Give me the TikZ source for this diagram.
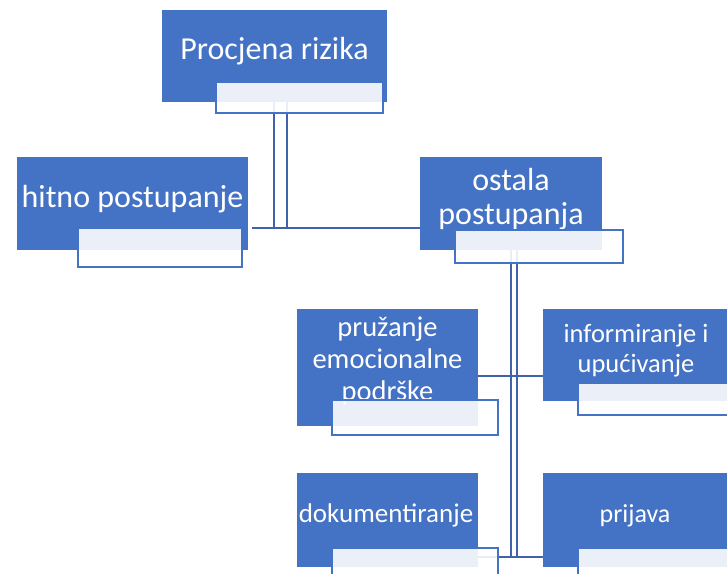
\documentclass[tikz,border=0pt]{standalone}
\usepackage{fontspec}
\setmainfont{Carlito}
\pgfdeclarelayer{background}
\pgfsetlayers{background,main}
\definecolor{boxblue}{HTML}{4472C4}
\definecolor{linkblue}{HTML}{3F62AB}
\tikzset{
  bluebox/.style={draw=none, fill=boxblue, rectangle, inner sep=0pt},
  lightbox/.style={draw=boxblue, line width=1.3pt, fill=white, fill opacity=0.89, rectangle, inner sep=0pt},
  txt/.style={text=white, inner sep=0pt, anchor=base},
  link/.style={draw=linkblue, line width=1.6pt}
}
\begin{document}
\begin{tikzpicture}[x=1pt,y=-1pt]
\useasboundingbox (0,0) rectangle (727,573);
\clip (0,0) rectangle (727,573);
% blue boxes
\node[bluebox, minimum width=225pt, minimum height=92pt] (pr) at (274.5,56) {};
\node[bluebox, minimum width=231pt, minimum height=93pt] (hit) at (132.5,203.5) {};
\node[bluebox, minimum width=182pt, minimum height=93pt] (ost) at (511,203.5) {};
\node[bluebox, minimum width=181pt, minimum height=117pt] (emo) at (387.5,367.5) {};
\node[bluebox, minimum width=186pt, minimum height=92pt] (inf) at (636,355) {};
\node[bluebox, minimum width=181pt, minimum height=94pt] (dok) at (387.5,520) {};
\node[bluebox, minimum width=186pt, minimum height=94pt] (pri) at (636,520) {};
% texts
\node[txt, font=\fontsize{32}{34}\selectfont] (prT) at (274.5,59) {Procjena rizika};
\node[txt, font=\fontsize{32}{34}\selectfont] (hitT) at (132.5,207) {hitno postupanje};
\node[txt, font=\fontsize{32}{34}\selectfont] (ostT) at (511,224) {\begin{tabular}[b]{@{}c@{}}ostala\\postupanja\end{tabular}};
\node[txt, font=\fontsize{28.5}{32}\selectfont] (emoT) at (387.5,400) {\begin{tabular}[b]{@{}c@{}}pružanje\\emocionalne\\podrške\end{tabular}};
\node[txt, font=\fontsize{26.5}{30}\selectfont] (infT) at (636,372) {\begin{tabular}[b]{@{}c@{}}informiranje i\\upućivanje\end{tabular}};
\node[txt, font=\fontsize{27}{30}\selectfont] (dokT) at (386,522) {dokumentiranje};
\node[txt, font=\fontsize{26}{30}\selectfont] (priT) at (635,522) {prijava};
% light boxes
\node[lightbox, minimum width=167pt, minimum height=31pt] (prL) at (299.5,97.5) {};
\node[lightbox, minimum width=164pt, minimum height=39pt] (hitL) at (160,247.5) {};
\node[lightbox, minimum width=168pt, minimum height=33pt] (ostL) at (539,246.5) {};
\node[lightbox, minimum width=166pt, minimum height=35pt] (emoL) at (415,417.5) {};
\node[lightbox, minimum width=166pt, minimum height=32pt] (infL) at (661,399) {};
\node[lightbox, minimum width=166pt, minimum height=35pt] (dokL) at (415,565.5) {};
\node[lightbox, minimum width=166pt, minimum height=35pt] (priL) at (661,565.5) {};
% junctions
\coordinate (j1) at (280,228);
\coordinate (j2) at (514,376);
\coordinate (j3) at (514,557);
\begin{pgfonlayer}{background}
\draw[link] ([xshift=-0.5pt]pr.south) -- ([xshift=-0.5pt]pr.south |- j1);
\draw[link] ([xshift=12.5pt]pr.south) -- ([xshift=12.5pt]pr.south |- j1);
\draw[link] ([xshift=4pt]hit.east |- j1) -- (ost.west |- j1);
\draw[link] ([xshift=0pt]ost.south) -- ([xshift=0pt]ost.south |- j3);
\draw[link] ([xshift=6pt]ost.south) -- ([xshift=6pt]ost.south |- j3);
\draw[link] (emo.east |- j2) -- (inf.west |- j2);
\draw[link] (dok.east |- j3) -- (pri.west |- j3);
\end{pgfonlayer}
\end{tikzpicture}
\end{document}
